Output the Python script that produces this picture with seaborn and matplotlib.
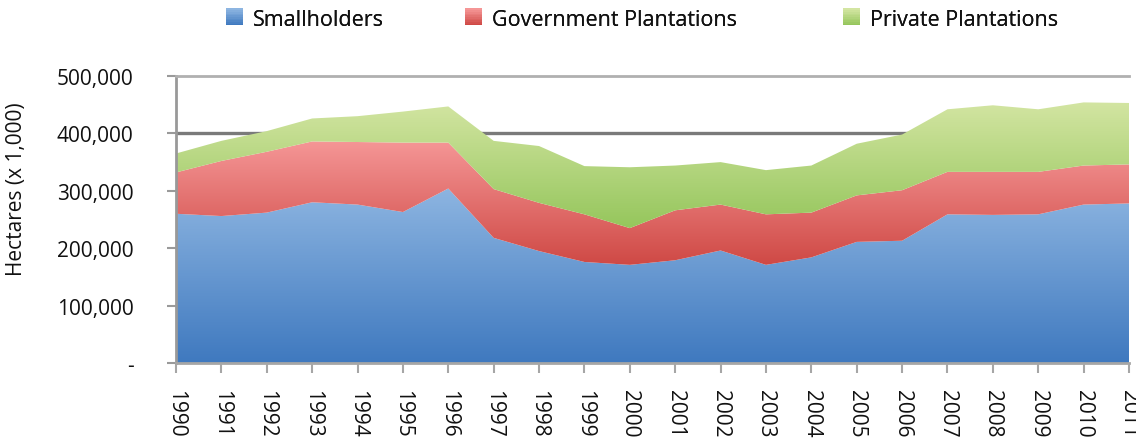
import numpy as np
import matplotlib
matplotlib.use("Agg")
import matplotlib.pyplot as plt
from matplotlib.colors import LinearSegmentedColormap
from matplotlib.legend_handler import HandlerBase
from matplotlib.patches import Rectangle
from matplotlib.ticker import FuncFormatter, MultipleLocator
import seaborn as sns

# Planted area by ownership, hectares (x 1,000)
years = list(range(1990, 2012))
smallholders = [260000, 256000, 262000, 280000, 276000, 263000, 304000, 218000, 195000, 176000, 171000,
                179000, 196000, 171000, 184000, 211000, 213000, 259000, 258000, 259000, 276000, 278000]
government = [72000, 96000, 106000, 106000, 109000, 121000, 80000, 85000, 84000, 83000, 64000,
              87000, 80000, 88000, 78000, 81000, 88000, 74000, 75000, 74000, 68000, 68000]
private = [33000, 35000, 36000, 40000, 45000, 54000, 63000, 84000, 99000, 84000, 106000,
           78000, 74000, 77000, 82000, 90000, 97000, 109000, 116000, 109000, 110000, 107000]

series_names = ["Smallholders", "Government Plantations", "Private Plantations"]
# (light top colour, dark bottom colour) for each layer
gradients = [("#8db5e1", "#3f79bf"),
             ("#f59696", "#cf4945"),
             ("#d3e5a2", "#95c65c")]

sns.set_theme(style="white")
plt.rcParams["font.family"] = ["Open Sans", "DejaVu Sans"]

fig = plt.figure(figsize=(11.36, 4.39), dpi=100)
ax = fig.add_axes([176 / 1136, 1 - 364 / 439, (1129 - 176) / 1136, (364 - 77) / 439])

x = np.array(years, dtype=float)
layers = [np.array(smallholders, float), np.array(government, float), np.array(private, float)]

lower = np.zeros_like(x)
for vals, (c_top, c_bot) in zip(layers, gradients):
    upper = lower + vals
    poly = ax.fill_between(x, lower, upper, facecolor="none", edgecolor="none", zorder=2)
    cmap = LinearSegmentedColormap.from_list("g", [c_bot, c_top])
    grad = np.linspace(0, 1, 256).reshape(-1, 1)
    img = ax.imshow(grad, cmap=cmap, origin="lower", aspect="auto",
                    extent=[x[0], x[-1], lower.min(), upper.max()],
                    interpolation="bicubic", zorder=2)
    img.set_clip_path(poly.get_paths()[0], transform=ax.transData)
    lower = upper

ax.set_xlim(1990, 2011)
ax.set_ylim(0, 500000)

# Horizontal rule at 400,000
ax.axhline(400000, color="#7a7a7a", lw=2.4, zorder=1)

ax.yaxis.set_major_locator(MultipleLocator(100000))
ax.yaxis.set_major_formatter(FuncFormatter(lambda v, p: "-" if v == 0 else f"{v:,.0f}"))
ax.set_xticks(years)
ax.set_xticklabels([str(y) for y in years], rotation=-90)

ax.tick_params(axis="y", which="major", left=True, length=6.5, width=1.5, color="#9a9a9a",
               labelsize=15, pad=24, labelcolor="#111111")
ax.tick_params(axis="x", which="major", bottom=True, length=7, width=1.5, color="#a6a6a6",
               labelsize=15, pad=12, labelcolor="#111111")

for side in ["left", "bottom", "top"]:
    ax.spines[side].set_visible(True)
    ax.spines[side].set_linewidth(2)
    ax.spines[side].set_zorder(3)
ax.spines["left"].set_color("#999999")
ax.spines["bottom"].set_color("#a6a6a6")
ax.spines["top"].set_color("#b0b0b0")
ax.spines["right"].set_visible(False)

fig.text(17 / 1136, 1 - 189 / 439, "Hectares (x 1,000)", rotation=90, ha="center", va="center",
         fontsize=15, color="#111111")


class GradientHandler(HandlerBase):
    def __init__(self, top, bottom, n=10):
        super().__init__()
        self.top, self.bottom, self.n = top, bottom, n

    def create_artists(self, legend, orig_handle, xdescent, ydescent, width, height, fontsize, trans):
        cmap = LinearSegmentedColormap.from_list("h", [self.bottom, self.top])
        size = height * 1.0
        x0 = -xdescent + (width - size) / 2
        y0 = -ydescent + (height - size) / 2
        arts = []
        for i in range(self.n):
            r = Rectangle((x0, y0 + size * i / self.n), size, size / self.n + 0.3,
                          facecolor=cmap(i / (self.n - 1)), edgecolor="none", transform=trans)
            arts.append(r)
        return arts


legend_x = [226 / 1136, 465 / 1136, 843 / 1136]
for name, (c_top, c_bot), lx in zip(series_names, gradients, legend_x):
    h = Rectangle((0, 0), 1, 1)
    leg = fig.legend([h], [name], loc="center left", bbox_to_anchor=(lx, 1 - 20 / 439),
                     frameon=False, fontsize=15.5, handlelength=0.8, handleheight=0.8,
                     handletextpad=0.45, borderpad=0, borderaxespad=0,
                     handler_map={h: GradientHandler(c_top, c_bot)})
    for t in leg.get_texts():
        t.set_color("#111111")
    fig.add_artist(leg)

fig.savefig("out.png", dpi=100)
